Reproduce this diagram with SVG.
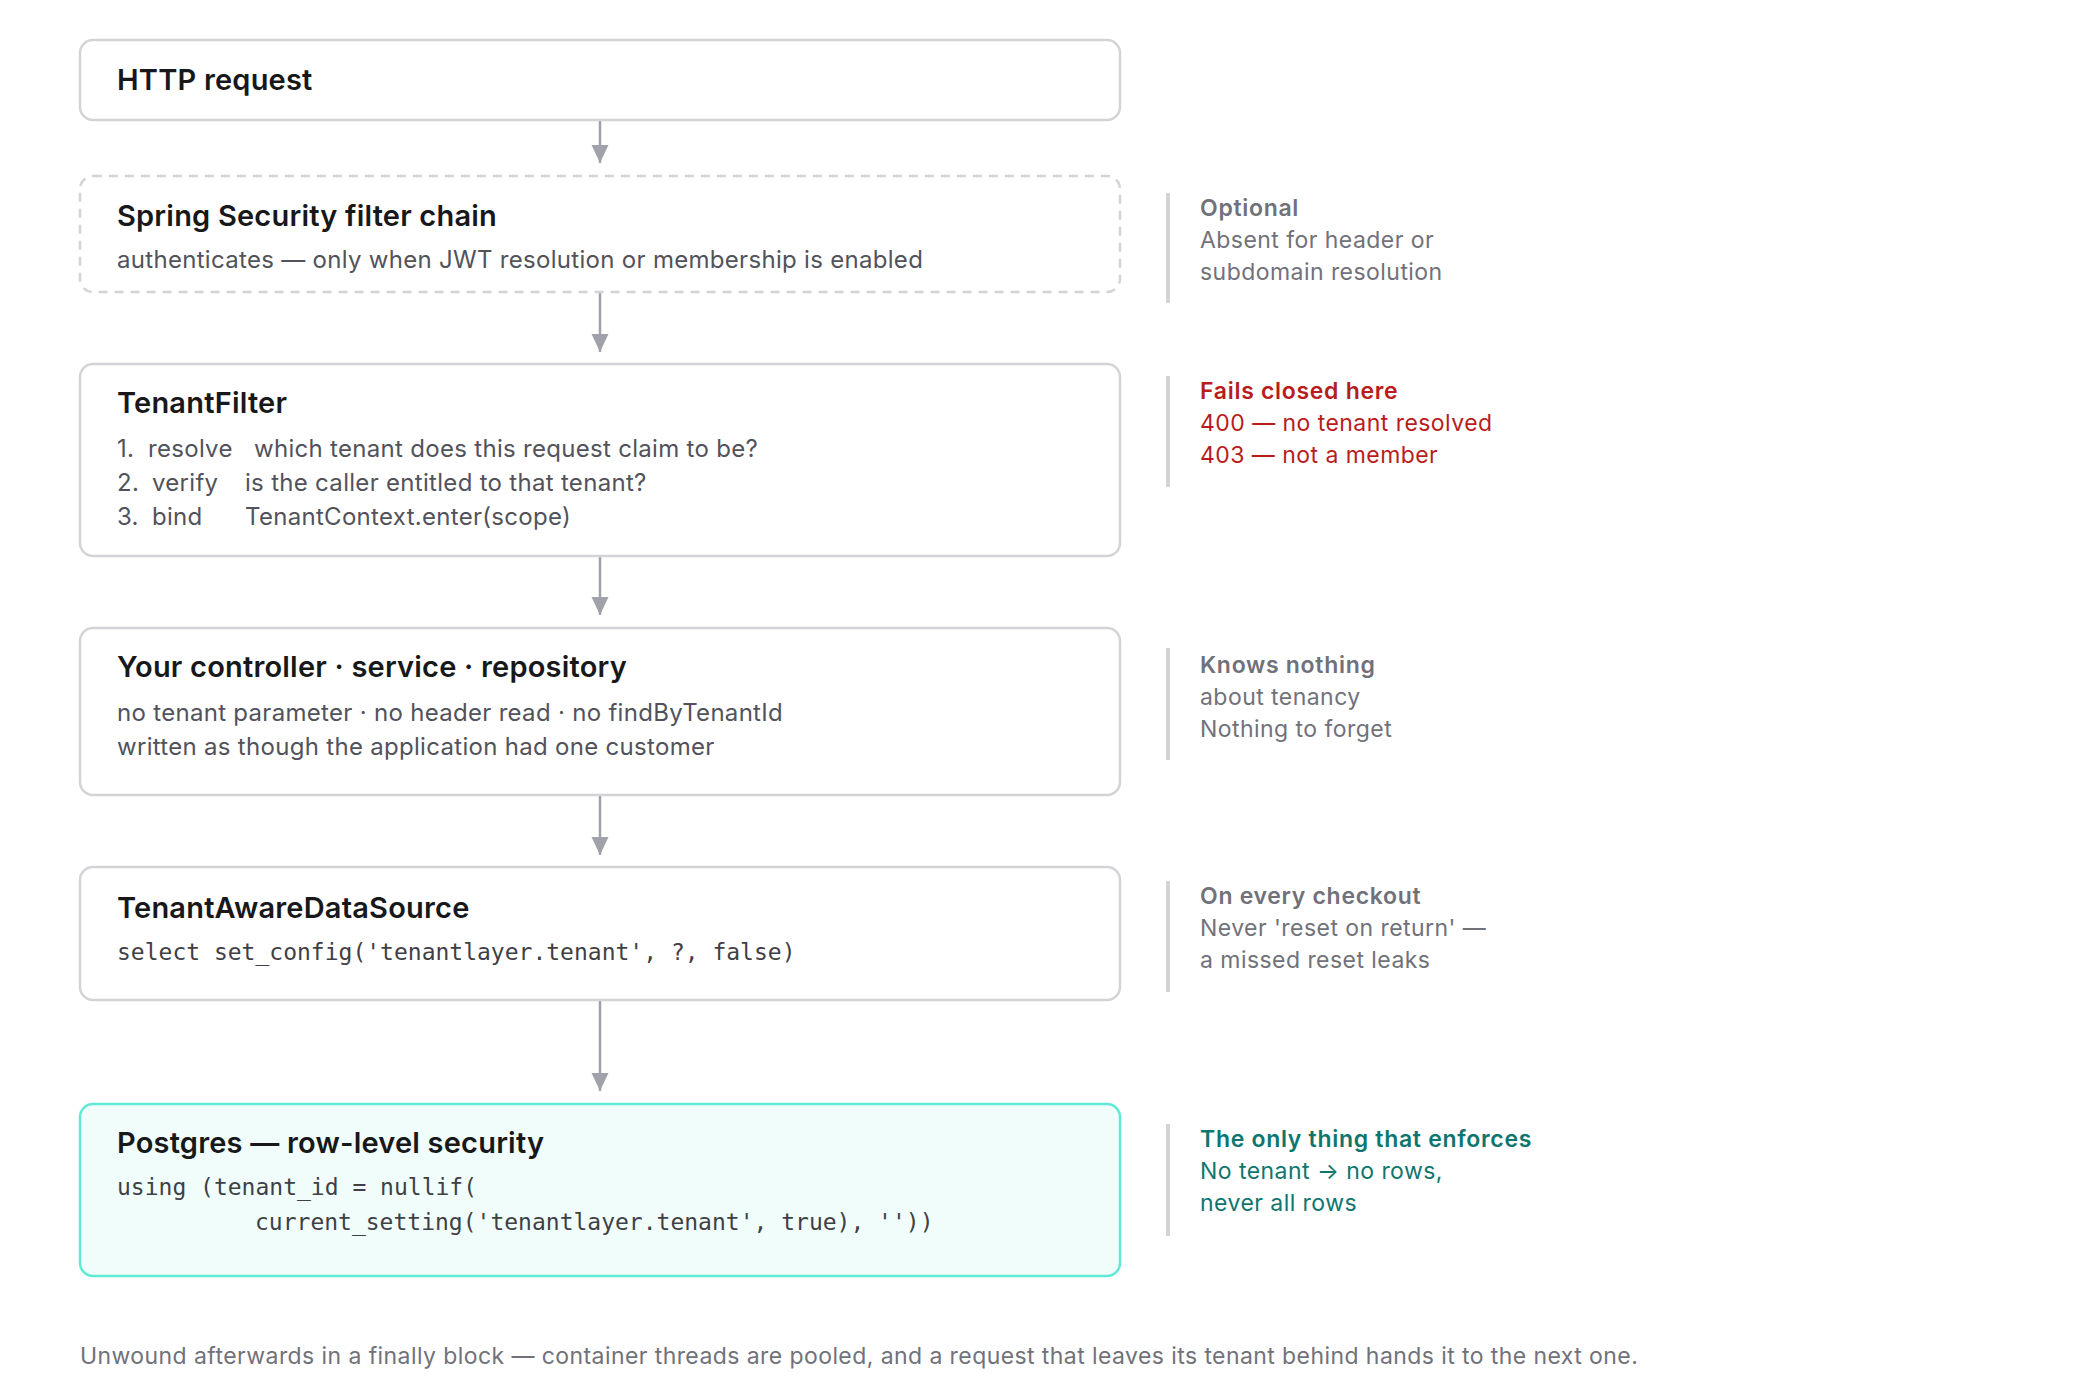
<svg xmlns="http://www.w3.org/2000/svg" width="2080" height="1400" viewBox="0 0 2080 1400">
<style>
.box{fill:#ffffff;stroke:#d4d4d8;stroke-width:2.5}
.dash{fill:#ffffff;stroke:#d4d4d8;stroke-width:2.5;stroke-dasharray:9 7}
.pg{fill:#f0fdfa;stroke:#5eead4;stroke-width:2.5}
.t{font-family:Inter,"Noto Sans","Liberation Sans",sans-serif;font-size:29px;font-weight:600;letter-spacing:0.2px;fill:#18181b}
.b{font-family:Inter,"Noto Sans","Liberation Sans",sans-serif;font-size:24px;letter-spacing:0.3px;fill:#52525b}
.m{font-family:"DejaVu Sans Mono","Liberation Mono",monospace;font-size:23px;fill:#3f3f46}
.bar{fill:#d4d4d8}
.sh{font-family:Inter,"Noto Sans","Liberation Sans",sans-serif;font-size:23px;font-weight:600;letter-spacing:0.7px}
.sb{font-family:Inter,"Noto Sans","Liberation Sans",sans-serif;font-size:23px;letter-spacing:0.45px}
.gray{fill:#71717a}
.red{fill:#b91c1c}
.teal{fill:#0f766e}
.conn{stroke:#a1a1aa;stroke-width:2.5;fill:none}
.foot{font-family:Inter,"Noto Sans","Liberation Sans",sans-serif;font-size:23px;letter-spacing:0.42px;fill:#71717a}
</style>
<defs>
<marker id="ah" markerUnits="userSpaceOnUse" viewBox="0 0 18 18" markerWidth="18" markerHeight="18" refX="18" refY="9" orient="auto">
<path d="M0,0.5 L18,9 L0,17.5 z" fill="#a1a1aa"/>
</marker>
</defs>
<rect width="2080" height="1400" fill="#ffffff"/>

<g id="connectors">
<line class="conn" x1="600" y1="120" x2="600" y2="163" marker-end="url(#ah)"/>
<line class="conn" x1="600" y1="293" x2="600" y2="352" marker-end="url(#ah)"/>
<line class="conn" x1="600" y1="557" x2="600" y2="615" marker-end="url(#ah)"/>
<line class="conn" x1="600" y1="796" x2="600" y2="855" marker-end="url(#ah)"/>
<line class="conn" x1="600" y1="1001" x2="600" y2="1091" marker-end="url(#ah)"/>
</g>

<g id="node-http">
<rect class="box" x="80" y="40" width="1040" height="80" rx="13"/>
<text class="t" x="117" y="90">HTTP request</text>
</g>

<g id="node-spring">
<rect class="dash" x="80" y="176" width="1040" height="116" rx="13"/>
<text class="t" x="117" y="226">Spring Security filter chain</text>
<text class="b" x="117" y="268">authenticates — only when JWT resolution or membership is enabled</text>
</g>

<g id="node-tenantfilter">
<rect class="box" x="80" y="364" width="1040" height="192" rx="13"/>
<text class="t" x="117" y="413">TenantFilter</text>
<text class="b" y="457"><tspan x="117">1.</tspan><tspan x="148">resolve</tspan><tspan x="254">which tenant does this request claim to be?</tspan></text>
<text class="b" y="491"><tspan x="117">2.</tspan><tspan x="152">verify</tspan><tspan x="245">is the caller entitled to that tenant?</tspan></text>
<text class="b" y="525"><tspan x="117">3.</tspan><tspan x="152">bind</tspan><tspan x="245">TenantContext.enter(scope)</tspan></text>
</g>

<g id="node-app">
<rect class="box" x="80" y="628" width="1040" height="167" rx="13"/>
<text class="t" x="117" y="677">Your controller · service · repository</text>
<text class="b" x="117" y="721">no tenant parameter · no header read · no findByTenantId</text>
<text class="b" x="117" y="755">written as though the application had one customer</text>
</g>

<g id="node-datasource">
<rect class="box" x="80" y="867" width="1040" height="133" rx="13"/>
<text class="t" x="117" y="918">TenantAwareDataSource</text>
<text class="m" x="117" y="960">select set_config('tenantlayer.tenant', ?, false)</text>
</g>

<g id="node-postgres">
<rect class="pg" x="80" y="1104" width="1040" height="172" rx="13"/>
<text class="t" x="117" y="1153">Postgres — row-level security</text>
<text class="m" x="117" y="1195">using (tenant_id = nullif(</text>
<text class="m" x="255" y="1230">current_setting('tenantlayer.tenant', true), ''))</text>
</g>

<g id="note-optional">
<rect class="bar" x="1166" y="193" width="4" height="110"/>
<text class="sh gray" x="1200" y="216">Optional</text>
<text class="sb gray" x="1200" y="248">Absent for header or</text>
<text class="sb gray" x="1200" y="280">subdomain resolution</text>
</g>

<g id="note-fails">
<rect class="bar" x="1166" y="376" width="4" height="111"/>
<text class="sh red" x="1200" y="399">Fails closed here</text>
<text class="sb red" x="1200" y="431">400 — no tenant resolved</text>
<text class="sb red" x="1200" y="463">403 — not a member</text>
</g>

<g id="note-knows">
<rect class="bar" x="1166" y="648" width="4" height="112"/>
<text class="sh gray" x="1200" y="673">Knows nothing</text>
<text class="sb gray" x="1200" y="705">about tenancy</text>
<text class="sb gray" x="1200" y="737">Nothing to forget</text>
</g>

<g id="note-checkout">
<rect class="bar" x="1166" y="881" width="4" height="111"/>
<text class="sh gray" x="1200" y="904">On every checkout</text>
<text class="sb gray" x="1200" y="936">Never 'reset on return' —</text>
<text class="sb gray" x="1200" y="968">a missed reset leaks</text>
</g>

<g id="note-enforces">
<rect class="bar" x="1166" y="1124" width="4" height="112"/>
<text class="sh teal" x="1200" y="1147">The only thing that enforces</text>
<text class="sb teal" x="1200" y="1179">No tenant → no rows,</text>
<text class="sb teal" x="1200" y="1211">never all rows</text>
</g>

<text class="foot" x="80" y="1364">Unwound afterwards in a finally block — container threads are pooled, and a request that leaves its tenant behind hands it to the next one.</text>
</svg>
